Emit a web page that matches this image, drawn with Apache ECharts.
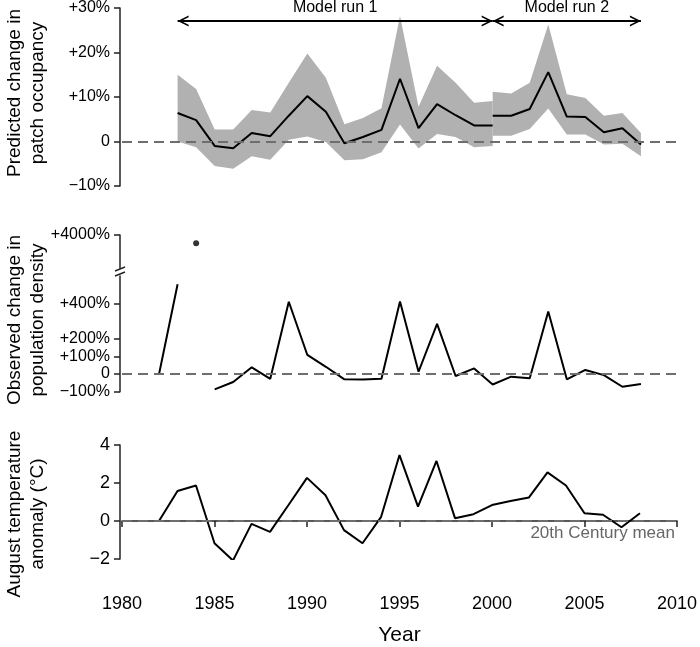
<!DOCTYPE html>
<html>
<head>
<meta charset="utf-8">
<script src="https://cdn.jsdelivr.net/npm/echarts@6/dist/echarts.min.js"></script>
<style>html,body{margin:0;padding:0;background:#fff}#c{width:700px;height:647px}</style>
</head>
<body>
<div id="c"></div>
<script>
// ---- data ----
const run1Years = [1983,1984,1985,1986,1987,1988,1989,1990,1991,1992,1993,1994,1995,1996,1997,1998,1999,2000];
const run1Mean  = [6.4,4.8,-1.0,-1.5,1.9,1.2,5.8,10.2,6.7,-0.4,1.0,2.6,14.1,3.0,8.4,5.9,3.6,3.6];
const run1Upper = [15.0,11.8,2.7,2.7,7.1,6.5,13.2,19.8,14.3,3.9,5.3,7.5,28.2,7.8,17.0,13.2,8.7,9.1];
const run1Lower = [0.0,-1.3,-5.5,-6.1,-3.3,-4.1,0.4,1.1,-0.1,-4.2,-4.0,-2.4,3.8,-1.6,1.7,1.0,-1.3,-1.0];

const run2Years = [2000,2001,2002,2003,2004,2005,2006,2007,2008];
const run2Mean  = [5.8,5.8,7.3,15.6,5.6,5.5,2.1,3.0,-0.7];
const run2Upper = [11.2,10.8,13.2,26.3,10.6,9.8,5.8,6.4,1.9];
const run2Lower = [1.3,1.3,2.8,7.4,1.6,1.6,-0.7,-0.5,-3.3];

const popYears  = [1982,1983,1984,1985,1986,1987,1988,1989,1990,1991,1992,1993,1994,1995,1996,1997,1998,1999,2000,2001,2002,2003,2004,2005,2006,2007,2008];
const popChange = [0,508,null,-87,-45,38,-27,409,108,41,-30,-31,-27,411,13,284,-11,32,-59,-15,-24,354,-30,23,-6,-72,-57];
const popOutlierYear = 1984;
const popOutlierValue = 3750;

const tempYears = [1982,1983,1984,1985,1986,1987,1988,1989,1990,1991,1992,1993,1994,1995,1996,1997,1998,1999,2000,2001,2002,2003,2004,2005,2006,2007,2008];
const tempAnom  = [0,1.58,1.87,-1.17,-2.08,-0.15,-0.57,0.84,2.27,1.36,-0.48,-1.17,0.2,3.47,0.76,3.16,0.15,0.36,0.84,1.05,1.24,2.56,1.87,0.41,0.33,-0.33,0.41];

const xTicks = [1980,1985,1990,1995,2000,2005,2010];
const occTicks = [-10,0,10,20,30];
const popTicksLow = [-100,0,100,200,400];
const popTicksHigh = [4000];
const tempTicks = [-2,0,2,4];
const modelRuns = [
  {name:'Model run 1', from:1983, to:2000, level:27.1},
  {name:'Model run 2', from:2000, to:2008, level:27.1}
];

// ---- helpers ----
const FONT = 'Liberation Sans, Arial, sans-serif';
const AX = '#222';
const pair = (xs, ys) => xs.map((x,i)=>[x, ys[i] === null ? '-' : ys[i]]);
const minus = s => String(s).replace('-', '\u2212');
const pctFmt = v => v > 0 ? '+' + v + '%' : (v === 0 ? '0' : minus(v) + '%');

const chevron = 'path://M5,0 L10,10 L8.4,10 L5,3.2 L1.6,10 L0,10 Z';

const grids = [
  {left:122, right:22, top:6, height:180},        // occupancy
  {left:122, right:22, top:235, height:33},       // population high
  {left:122, right:22, top:276, height:115.7},    // population low
  {left:122, right:22, top:445, height:116.7}     // temperature
];

function xAx(i, show){
  return {type:'value', gridIndex:i, min:1980, max:2010, show:show,
    axisLine:{show:true, lineStyle:{color:AX, width:1.5}},
    axisTick:{show:true, length:6, customValues:xTicks, lineStyle:{color:AX, width:1.5}},
    axisLabel:{show:true, customValues:xTicks, formatter:v => String(v), fontFamily:FONT, fontSize:18, color:'#000', margin:10},
    splitLine:{show:false}};
}
function yAx(i, min, max, ticks, fmt, fs){
  return {type:'value', gridIndex:i, min:min, max:max, offset:2,
    axisLine:{show:true, lineStyle:{color:AX, width:1.5}},
    axisTick:{show:true, length:6, customValues:ticks, lineStyle:{color:AX, width:1.5}},
    axisLabel:{show:true, customValues:ticks, formatter:fmt, fontFamily:FONT, fontSize:fs, color:'#000', margin:10},
    splitLine:{show:false}};
}

const zeroLine = (label) => ({
  silent:true, symbol:'none',
  lineStyle:{color:'#6e6e6e', type:[10,6], width:2},
  label:label ? {show:true, position:'insideEndBottom', formatter:label, color:'#666', fontFamily:FONT, fontSize:17, distance:[2,4]} : {show:false},
  data:[{yAxis:0}]
});

function band(years, lower, upper){
  return {type:'custom', xAxisIndex:0, yAxisIndex:0, z:1, silent:true,
    data:[[years[0], lower[0]]],
    renderItem:(params, api) => {
      const top = years.map((y,i)=>api.coord([y, upper[i]]));
      const bot = years.map((y,i)=>api.coord([y, lower[i]])).reverse();
      return {type:'polygon', shape:{points:top.concat(bot)}, style:{fill:'#b1b1b1', stroke:null}};
    }};
}

const bottomX = xAx(3, true);
bottomX.offset = 26;
bottomX.name = 'Year';
bottomX.nameLocation = 'middle';
bottomX.nameGap = 40;
bottomX.nameTextStyle = {fontFamily:FONT, fontSize:21, color:'#000'};

const option = {
  animation:false,
  backgroundColor:'#fff',
  grid: grids,
  xAxis: [xAx(0,false), xAx(1,false), xAx(2,false), bottomX],
  yAxis: [
    yAx(0, -10, 30, occTicks, pctFmt, 16),
    yAx(1, 3000, 4000, popTicksHigh, pctFmt, 16),
    yAx(2, -100, 555, popTicksLow, pctFmt, 16),
    yAx(3, -2, 4, tempTicks, v => minus(v), 18)
  ],
  series: [
    band(run1Years, run1Lower, run1Upper),
    band(run2Years, run2Lower, run2Upper),
    // mean lines
    {type:'line', xAxisIndex:0, yAxisIndex:0, symbol:'none', lineStyle:{color:'#000', width:2}, data:pair(run1Years, run1Mean), z:3,
     markLine:zeroLine(null)},
    {type:'line', xAxisIndex:0, yAxisIndex:0, symbol:'none', lineStyle:{color:'#000', width:2}, data:pair(run2Years, run2Mean), z:3,
     markLine:{silent:true, symbol:[chevron, chevron], symbolSize:[11,11], symbolOffset:[[0, 5.5],[0, 5.5]],
       lineStyle:{color:'#000', type:'solid', width:2},
       label:{show:true, position:'insideMiddleTop', formatter:'{b}', color:'#000', fontFamily:FONT, fontSize:16, distance:5},
       data: modelRuns.map(m => [{name:m.name, coord:[m.from, m.level]}, {coord:[m.to, m.level]}])}},
    // population
    {type:'scatter', xAxisIndex:1, yAxisIndex:1, symbol:'circle', symbolSize:6, itemStyle:{color:'#000'},
     data:[[popOutlierYear, popOutlierValue]]},
    {type:'line', xAxisIndex:2, yAxisIndex:2, symbol:'none', connectNulls:false, lineStyle:{color:'#000', width:2},
     data:pair(popYears, popChange), z:3, markLine:zeroLine(null)},
    // temperature
    {type:'line', xAxisIndex:3, yAxisIndex:3, symbol:'none', lineStyle:{color:'#000', width:2},
     data:pair(tempYears, tempAnom), z:3, markLine:zeroLine('20th Century mean')}
  ],
  graphic: [
    {type:'text', x:26, y:93, rotation:Math.PI/2,
     style:{text:'Predicted change in\npatch occupancy', font:'19px ' + FONT, fill:'#000', align:'center', verticalAlign:'middle', lineHeight:23}},
    {type:'text', x:26, y:320, rotation:Math.PI/2,
     style:{text:'Observed change in\npopulation density', font:'19px ' + FONT, fill:'#000', align:'center', verticalAlign:'middle', lineHeight:23}},
    {type:'text', x:26, y:514, rotation:Math.PI/2,
     style:{text:'August temperature\nanomaly (\u00B0C)', font:'19px ' + FONT, fill:'#000', align:'center', verticalAlign:'middle', lineHeight:23}},
    // axis break marks
    {type:'line', shape:{x1:115, y1:271, x2:125, y2:267}, style:{stroke:AX, lineWidth:1.5}},
    {type:'line', shape:{x1:115, y1:276, x2:125, y2:272}, style:{stroke:AX, lineWidth:1.5}}
  ]
};
const chart = echarts.init(document.getElementById('c'), null, {renderer:'canvas'});
chart.setOption(option);
</script>
</body>
</html>
